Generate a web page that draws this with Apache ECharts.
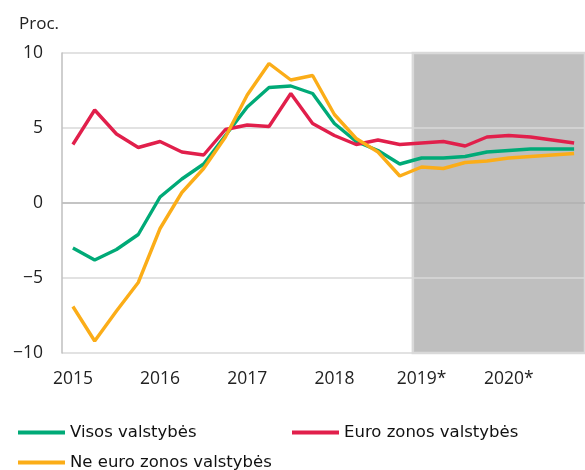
<!DOCTYPE html>
<html>
<head>
<meta charset="utf-8">
<script src="https://cdn.jsdelivr.net/npm/echarts@6/dist/echarts.min.js"></script>
<style>
  html, body { margin: 0; padding: 0; background: #fff; }
  #chart { width: 585px; height: 470px; }
</style>
</head>
<body>
<div id="chart"></div>
<script>
  // duomenys: ketvirčiai 2015 I - 2020 IV
  var quarters = [
    '2015 I','2015 II','2015 III','2015 IV',
    '2016 I','2016 II','2016 III','2016 IV',
    '2017 I','2017 II','2017 III','2017 IV',
    '2018 I','2018 II','2018 III','2018 IV',
    '2019 I','2019 II','2019 III','2019 IV',
    '2020 I','2020 II','2020 III','2020 IV'
  ];
  var yearLabels = ['2015', '2016', '2017', '2018', '2019*', '2020*'];

  var visos = [-3.0, -3.8, -3.1, -2.1, 0.4, 1.6, 2.6, 4.5, 6.4, 7.7, 7.8, 7.3,
               5.3, 4.1, 3.5, 2.6, 3.0, 3.0, 3.1, 3.4, 3.5, 3.6, 3.6, 3.6];
  var euro = [3.9, 6.2, 4.6, 3.7, 4.1, 3.4, 3.2, 4.9, 5.2, 5.1, 7.3, 5.3,
              4.5, 3.9, 4.2, 3.9, 4.0, 4.1, 3.8, 4.4, 4.5, 4.4, 4.2, 4.0];
  var neEuro = [-6.9, -9.2, -7.2, -5.3, -1.7, 0.7, 2.3, 4.4, 7.2, 9.3, 8.2, 8.5,
                5.9, 4.3, 3.4, 1.8, 2.4, 2.3, 2.7, 2.8, 3.0, 3.1, 3.2, 3.3];

  // prognozės laikotarpis (kategorijų indeksų skalėje)
  var forecast = [[15.6, 10, 23.5, -10]];

  var names = ['Visos valstybės', 'Euro zonos valstybės', 'Ne euro zonos valstybės'];
  var colors = ['#00aa77', '#e11f4b', '#fbad18'];

  var App = {};

  App.init = function(){
    var _this = this;
    var chart = echarts.init(document.getElementById('chart'));

    var legendText = { fontFamily: 'DejaVu Sans', fontSize: 16.5, color: '#111' };
    var legendBase = function(name, left, top){
      return {
        data: [name], left: left, top: top, padding: 0,
        icon: 'rect', itemWidth: 47, itemHeight: 4,
        textStyle: legendText, selectedMode: false
      };
    };

    var lineSeries = function(i, data){
      return {
        name: names[i], type: 'line', data: data,
        symbol: 'none', z: 3,
        lineStyle: { color: colors[i], width: 3.4 },
        itemStyle: { color: colors[i] }
      };
    };

    //prognozės fonas
    var shadeItem = function(params, api){
      var p0 = api.coord([api.value(0), api.value(1)]);
      var p1 = api.coord([api.value(2), api.value(3)]);
      return {
        type: 'rect',
        shape: { x: p0[0], y: p0[1], width: p1[0] - p0[0], height: p1[1] - p0[1] },
        style: { fill: '#bfbfbf', stroke: '#d9d9d9', lineWidth: 2.5 }
      };
    };

    var option = {
      animation: false,
      title: {
        text: 'Proc.', left: 14, top: 11,
        textStyle: { fontFamily: 'Open Sans', fontSize: 17, fontWeight: 'normal', color: '#222' }
      },
      legend: [
        legendBase(names[0], 18, 424),
        legendBase(names[1], 292, 424),
        legendBase(names[2], 18, 454)
      ],
      grid: { left: 62, top: 53, width: 526, height: 300 },
      xAxis: [{
        type: 'category', data: quarters, boundaryGap: true, z: 1,
        axisLine: { show: false, onZero: false }, axisTick: { show: false },
        axisLabel: {
          interval: 3, margin: 17,
          fontFamily: 'Open Sans', fontSize: 17.5, color: '#222',
          formatter: function(v, i){ return yearLabels[Math.floor(i / 4)]; }
        }
      }, {
        type: 'value', min: -0.5, max: 23.5, show: false
      }],
      yAxis: {
        type: 'value', min: -10, max: 10, interval: 5, z: 1,
        axisLine: { show: true, onZero: false, lineStyle: { color: '#bfbfbf', width: 1.5 } },
        axisTick: { show: false },
        splitLine: { lineStyle: { color: ['#d9d9d9', '#d9d9d9', '#b0b0b0', '#d9d9d9', '#d9d9d9'], width: 1.5 } },
        axisLabel: {
          margin: 19, fontFamily: 'Open Sans', fontSize: 17.5, color: '#222',
          formatter: function(v){ return v < 0 ? '\u2212' + Math.abs(v) : String(v); }
        }
      },
      series: [
        {
          type: 'custom', xAxisIndex: 1, data: forecast, z: 0, silent: true,
          encode: { x: [0, 2], y: [1, 3] },
          renderItem: shadeItem
        },
        lineSeries(0, visos),
        lineSeries(1, euro),
        lineSeries(2, neEuro)
      ]
    };

    chart.setOption(option);
  };

  App.init();
</script>
</body>
</html>
